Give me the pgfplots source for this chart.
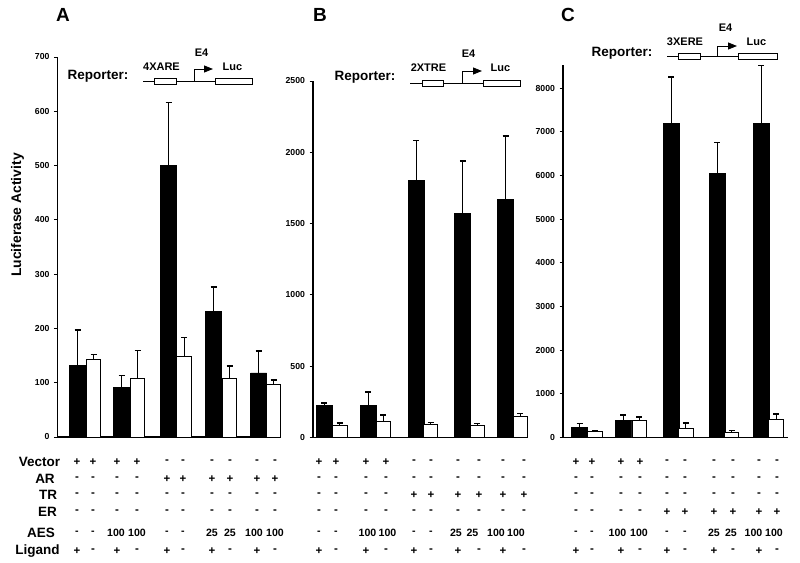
\documentclass[border=0pt]{standalone}
\usepackage{pgfplots}
\pgfplotsset{compat=1.18}
\usepackage{fontspec}
\setmainfont{Liberation Sans}
\usetikzlibrary{arrows.meta}

\newcommand{\fs}[1]{\bfseries\fontsize{#1bp}{#1bp}\selectfont}

\pgfplotsset{
  panel/.style={
    scale only axis, axis lines=left, axis line style={-, line width=1.8bp},
    xtick=\empty, enlargelimits=false, clip=false, ymin=0,
    tick align=outside, major tick length=3.5bp, tick style={line width=0.9bp, black},
    yticklabel style={font=\fs{8.7}, xshift=-1bp},
    /pgf/number format/assume math mode=true,
    /pgf/number format/1000 sep={},
    anchor=south west,
  },
  blk/.style={ybar, bar width=16bp, bar shift=0pt, fill=black, draw=black, line width=0.8bp,
    error bars/.cd, y dir=plus, y explicit, error mark=|,
    error bar style={line width=1bp, black},
    error mark options={line width=1.6bp, black, mark size=3bp}},
  wht/.style={ybar, bar width=14.5bp, bar shift=0pt, fill=white, draw=black, line width=0.9bp,
    error bars/.cd, y dir=plus, y explicit, error mark=|,
    error bar style={line width=1bp, black},
    error mark options={line width=1.6bp, black, mark size=3bp}},
}

\begin{document}
\begin{tikzpicture}
\path[use as bounding box] (0bp,0bp) rectangle (800bp,563bp);

% ---------- Panel A ----------
\begin{axis}[panel, at={(57.5bp,126bp)}, width=223.5bp, height=380bp,
  xmin=57.5, xmax=281, ymax=700, ytick={0,100,...,700}]
\addplot[blk] coordinates {(77.5,132) +- (0,65) (121.5,92) +- (0,21) (168.5,500) +- (0,116) (213.5,231) +- (0,45) (258.5,118) +- (0,40)};
\addplot[wht] coordinates {(93.5,142) +- (0,10) (137.5,107) +- (0,52) (184,148) +- (0,35) (229.5,107) +- (0,24) (273.5,97) +- (0,8)};
\end{axis}

% ---------- Panel B ----------
\begin{axis}[panel, at={(313bp,125.5bp)}, width=215bp, height=356.5bp,
  xmin=313, xmax=528, ymax=2500, ytick={0,500,...,2500}]
\addplot[blk] coordinates {(324.2,223) +- (0,21) (368.3,223) +- (0,94) (416,1805) +- (0,279) (462.8,1571) +- (0,368) (505.5,1669) +- (0,446)};
\addplot[wht] coordinates {(339.7,87) +- (0,16) (383.3,110) +- (0,47) (430.5,91) +- (0,14) (477.3,87) +- (0,11) (520.3,150) +- (0,19)};
\end{axis}

% ---------- Panel C ----------
\begin{axis}[panel, at={(563bp,125.5bp)}, width=225bp, height=372.5bp,
  xmin=563, xmax=788, ymax=8530, ytick={0,1000,...,8000}]
\addplot[blk] coordinates {(579.5,233) +- (0,90) (623.3,383) +- (0,128) (671.2,7183) +- (0,1069) (717,6038) +- (0,718) (761.3,7183) +- (0,1336)};
\addplot[wht] coordinates {(595,128) +- (0,30) (639.2,383) +- (0,91) (685.8,203) +- (0,135) (731.5,120) +- (0,38) (776,421) +- (0,113)};
\end{axis}

\begin{scope}[x=1bp,y=1bp]
% ---------- labels ----------
\node[rotate=90, font=\fs{13.9}] at (17.5,348) {Luciferase Activity};
\node[font=\fs{19}] at (63,548) {A};
\node[font=\fs{19}] at (320,548) {B};
\node[font=\fs{19}] at (568,548) {C};

% ---------- reporter diagrams ----------
\begin{scope}[line width=0.9bp]
% A
\node[font=\fs{13.5}] at (98,487) {Reporter:};
\draw (143,482) -- (253,482);
\draw[fill=white] (154,479) rectangle (176,485);
\draw[fill=white] (215,479) rectangle (252,485);
\draw[-{Triangle[length=9bp,width=7bp]}] (194,482) -- (194,494) -- (213,494);
\node[font=\fs{11}] at (161.5,496) {4XARE};
\node[font=\fs{11}] at (201.5,510) {E4};
\node[font=\fs{11}] at (232.5,496) {Luc};
% B
\node[font=\fs{13.5}] at (365,486) {Reporter:};
\draw (410,480) -- (520,480);
\draw[fill=white] (422,477) rectangle (443,483);
\draw[fill=white] (483,477) rectangle (520,483);
\draw[-{Triangle[length=9bp,width=7bp]}] (462,480) -- (462,492) -- (482,492);
\node[font=\fs{11}] at (428.5,495) {2XTRE};
\node[font=\fs{11}] at (468.5,509) {E4};
\node[font=\fs{11}] at (500.5,495) {Luc};
% C
\node[font=\fs{13.5}] at (622,510) {Reporter:};
\draw (667,507) -- (777,507);
\draw[fill=white] (678,504) rectangle (700,510);
\draw[fill=white] (738,504) rectangle (777,510);
\draw[-{Triangle[length=9bp,width=7bp]}] (717,507) -- (717,517) -- (737,517);
\node[font=\fs{11}] at (685,521) {3XERE};
\node[font=\fs{11}] at (725.5,535) {E4};
\node[font=\fs{11}] at (756.5,521) {Luc};
\end{scope}

% ---------- table ----------
\node[font=\fs{13.5}] at (39.5,101) {Vector};
\node[font=\fs{13.5}] at (45,84) {AR};
\node[font=\fs{13.5}] at (48,68) {TR};
\node[font=\fs{13.5}] at (47.5,51) {ER};
\node[font=\fs{13.5}] at (41,30) {AES};
\node[font=\fs{13.5}] at (37.5,12) {Ligand};

\def\tf{\fs{11.5}}
\def\nf{\fs{10.6}}
\foreach \x/\ax/\a/\b/\c/\d/\e/\f in {
  77/77/+/-/-/-/-/+, 93/93/+/-/-/-/-/-, 117/116/+/-/-/-/100/+, 137/137/+/-/-/-/100/-,
  167/167/-/+/-/-/-/+, 183/183/-/+/-/-/-/-, 212/212/-/+/-/-/25/+, 230/230/-/+/-/-/25/-,
  257/254/-/+/-/-/100/+, 275/275/-/+/-/-/100/-,
  319/319/+/-/-/-/-/+, 336/336/+/-/-/-/-/-, 366/367.5/+/-/-/-/100/+, 386/387.5/+/-/-/-/100/-,
  414/414/-/-/+/-/-/+, 431/431/-/-/+/-/-/-, 458/456/-/-/+/-/25/+, 479/472.5/-/-/+/-/25/-,
  503/496/-/-/+/-/100/+, 524/516/-/-/+/-/100/-,
  576/576/+/-/-/-/-/+, 592/592/+/-/-/-/-/-, 621/617.5/+/-/-/-/100/+, 640/639/+/-/-/-/100/-,
  667/667/-/-/-/+/-/+, 685/685/-/-/-/+/-/-, 714/714/-/-/-/+/25/+, 733/731/-/-/-/+/25/-,
  759/753.5/-/-/-/+/100/+, 777/774/-/-/-/+/100/-}
{
  \node[font=\tf] at (\x,101) {\a};
  \node[font=\tf] at (\x,84) {\b};
  \node[font=\tf] at (\x,68) {\c};
  \node[font=\tf] at (\x,51) {\d};
  \node[font=\nf] at (\ax,30) {\e};
  \node[font=\tf] at (\x,12) {\f};
}
\end{scope}
\end{tikzpicture}
\end{document}
